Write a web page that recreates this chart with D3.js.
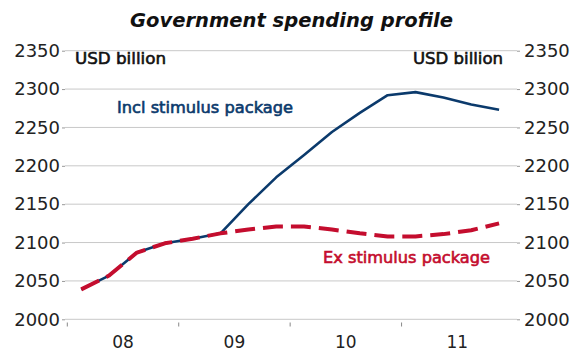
<!DOCTYPE html>
<html>
<head>
<meta charset="utf-8">
<script src="https://cdn.jsdelivr.net/npm/d3@7"></script>
<style>
  html, body { margin: 0; padding: 0; background: #fff; }
  svg { display: block; }
</style>
</head>
<body>
<svg id="chart" width="571" height="351"></svg>
<script>
// ---- Data ----
const years = ["08", "09", "10", "11"];
const quarters = d3.range(16); // Q1 2008 .. Q4 2011
const inclStimulus = [2039, 2057, 2087, 2099, 2105, 2112, 2150, 2185, 2214, 2244, 2269, 2292, 2296, 2289, 2280, 2273];
const exStimulus   = [2039, 2057, 2087, 2099, 2105, 2112, 2117, 2121, 2121, 2117, 2112, 2108, 2108, 2111, 2116, 2125];
const yTicks = [2000, 2050, 2100, 2150, 2200, 2250, 2300, 2350];

const title = "Government spending profile";
const unitLabel = "USD billion";
const inclLabel = "Incl stimulus package";
const exLabel = "Ex stimulus package";

// ---- Layout ----
const blue = "#0b3a6c";
const red = "#c40d2e";
const grid = "#c8c8c8";
const font = "'DejaVu Sans', sans-serif";

const svg = d3.select("#chart");
const x = d3.scaleLinear().domain([0, 16]).range([67.3, 513]);
const y = d3.scaleLinear().domain([2000, 2350]).range([319.3, 50.7]);

// gridlines
svg.append("g").selectAll("line").data(yTicks).join("line")
  .attr("x1", 65).attr("x2", 517)
  .attr("y1", d => y(d)).attr("y2", d => y(d))
  .attr("stroke", grid).attr("stroke-width", 1);

// left axis labels
const yl = d3.axisLeft(y).tickValues(yTicks).tickSize(3).tickPadding(2).tickFormat(d3.format("d"));
const gL = svg.append("g").attr("transform", "translate(65,0)").call(yl);
gL.select(".domain").remove();
gL.selectAll("line").attr("stroke", "#999");
gL.selectAll("text").attr("font-family", font).attr("font-size", 18).attr("fill", "#222");

const yr = d3.axisRight(y).tickValues(yTicks).tickSize(3).tickPadding(4).tickFormat(d3.format("d"));
const gR = svg.append("g").attr("transform", "translate(517,0)").call(yr);
gR.select(".domain").remove();
gR.selectAll("line").attr("stroke", "#999");
gR.selectAll("text").attr("font-family", font).attr("font-size", 18).attr("fill", "#222");

// x axis: year boundary ticks + centered labels
svg.append("g").selectAll("line").data([0, 4, 8, 12]).join("line")
  .attr("x1", d => x(d)).attr("x2", d => x(d))
  .attr("y1", 322.5).attr("y2", 326.5)
  .attr("stroke", "#888").attr("stroke-width", 1);

svg.append("g").selectAll("text").data(years).join("text")
  .attr("x", (d, i) => x(i * 4 + 2)).attr("y", 348)
  .attr("text-anchor", "middle")
  .attr("font-family", font).attr("font-size", 17).attr("fill", "#222")
  .text(d => d);

// lines
const line = d3.line().x((d, i) => x(i + 0.5)).y(d => y(d));

svg.append("path").datum(inclStimulus)
  .attr("d", line).attr("fill", "none")
  .attr("stroke", blue).attr("stroke-width", 2.6).attr("stroke-linejoin", "round");

svg.append("path").datum(exStimulus)
  .attr("d", line).attr("fill", "none")
  .attr("stroke", red).attr("stroke-width", 4)
  .attr("stroke-dasharray", "20,8").attr("stroke-linejoin", "round");

// texts
function fitText(sel, w) {
  sel.attr("textLength", w).attr("lengthAdjust", "spacingAndGlyphs");
}
function medium(sel, color) {
  sel.attr("font-weight", "normal").attr("fill", color)
     .attr("stroke", color).attr("stroke-width", 0.6);
}
svg.append("text").attr("x", 130).attr("y", 27)
  .attr("font-family", font).attr("font-size", 19).attr("font-weight", "bold")
  .attr("font-style", "italic").attr("fill", "#111")
  .text(title).call(fitText, 323);

svg.append("text").attr("x", 75).attr("y", 64)
  .attr("font-family", font).attr("font-size", 16)
  .call(medium, "#111")
  .text(unitLabel).call(fitText, 91);
svg.append("text").attr("x", 413).attr("y", 64)
  .attr("font-family", font).attr("font-size", 16)
  .call(medium, "#111")
  .text(unitLabel).call(fitText, 90);

svg.append("text").attr("x", 117).attr("y", 113)
  .attr("font-family", font).attr("font-size", 15.5)
  .call(medium, blue)
  .text(inclLabel).call(fitText, 176);

svg.append("text").attr("x", 323).attr("y", 263)
  .attr("font-family", font).attr("font-size", 15.5)
  .call(medium, red)
  .text(exLabel).call(fitText, 167);
</script>
</body>
</html>
